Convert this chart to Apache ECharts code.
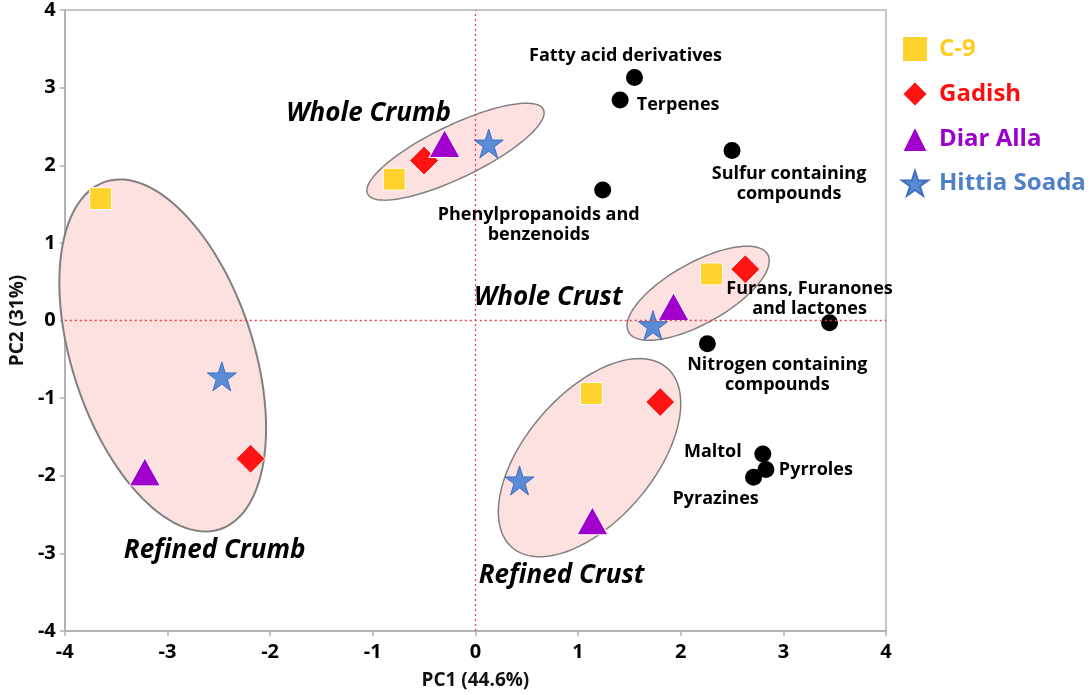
<!DOCTYPE html>
<html>
<head>
<meta charset="utf-8">
<script src="https://cdn.jsdelivr.net/npm/echarts@6/dist/echarts.min.js"></script>
<style>html,body{margin:0;padding:0;background:#fff;}#c{width:1092px;height:695px;}</style>
</head>
<body>
<div id="c"></div>
<script>
// ---- data ----
const seriesNames = ['C-9', 'Gadish', 'Diar Alla', 'Hittia Soada'];
// order of groups: Refined Crumb, Whole Crumb, Whole Crust, Refined Crust
const c9     = [[-3.65, 1.57], [-0.79, 1.82], [2.30, 0.60], [1.13, -0.94]];
const gadish = [[-2.19, -1.78], [-0.50, 2.06], [2.63, 0.66], [1.80, -1.05]];
const diar   = [[-3.22, -1.95], [-0.30, 2.28], [1.93, 0.18], [1.14, -2.58]];
const hittia = [[-2.47, -0.72], [0.13, 2.28], [1.73, -0.06], [0.43, -2.06]];

const compoundNames = ['Fatty acid derivatives', 'Terpenes', 'Sulfur containing\ncompounds',
  'Phenylpropanoids and\nbenzenoids', 'Furans, Furanones\nand lactones', 'Nitrogen containing\ncompounds',
  'Maltol', 'Pyrroles', 'Pyrazines'];
const compoundX = [1.55, 1.41, 2.50, 1.24, 3.45, 2.26, 2.80, 2.83, 2.71];
const compoundY = [3.13, 2.84, 2.19, 1.68, -0.03, -0.30, -1.72, -1.92, -2.02];

const groupNames = ['Refined Crumb', 'Whole Crumb', 'Whole Crust', 'Refined Crust'];
// ellipse: centre (x,y), half-axis A (dx,dy), half-axis B (dx,dy), in data units
const ellipseCenters = [[-3.046, -0.450], [-0.194, 2.175], [2.170, 0.351], [1.112, -1.767]];
const ellipseAxisA = [[0.557, -2.239], [0.856, 0.545], [0.677, 0.501], [0.751, 1.161]];
const ellipseAxisB = [[0.839, 0.361], [0.113, -0.305], [0.146, -0.341], [0.475, -0.531]];
const groupLabelPos = [[-2.54, -2.97], [-1.04, 2.67], [0.71, 0.29], [0.84, -3.28]];

const xTicks = { min: -4, max: 4, interval: 1 };
const yTicks = { min: -4, max: 4, interval: 1 };

// ---- styles (not data) ----
const FONT = '"Open Sans", Lato, sans-serif';
const labelOffsets = [[-9, -22], [58, 5], [57, 33], [-64, 35], [-20, -24], [70, 31], [-50, -2], [50, 0], [-38, 22]];
const STAR = 'path://M50,0 L61.2,34.5 L97.6,34.5 L68.2,55.9 L79.4,90.5 L50,69.1 L20.6,90.5 L31.8,55.9 L2.4,34.5 L38.8,34.5 Z';

const chart = echarts.init(document.getElementById('c'), null, { renderer: 'canvas' });

const ellipseData = groupNames.map((g, i) => [ellipseCenters[i][0], ellipseCenters[i][1],
  ellipseAxisA[i][0], ellipseAxisA[i][1], ellipseAxisB[i][0], ellipseAxisB[i][1]]);

const compoundData = compoundNames.map((n, i) => ({
  value: [compoundX[i], compoundY[i]],
  name: n,
  label: { offset: labelOffsets[i] }
}));

const axisCommon = {
  type: 'value',
  splitLine: { show: false },
  axisLine: { show: true, onZero: false, lineStyle: { color: '#b3b3b3', width: 2 } },
  axisTick: { show: true, length: 5, lineStyle: { color: '#b3b3b3', width: 1.5 } },
  axisLabel: { fontSize: 20, fontWeight: 'bold', color: '#000', fontFamily: FONT },
  nameLocation: 'middle',
  nameTextStyle: { fontSize: 19, fontWeight: 'bold', color: '#111', fontFamily: FONT }
};

const option = {
  animation: false,
  backgroundColor: '#fff',
  grid: { left: 62, right: 206, top: 5, bottom: 63, show: true, borderColor: '#b3b3b3', borderWidth: 1.5 },
  xAxis: Object.assign({}, axisCommon, {
    min: xTicks.min, max: xTicks.max, interval: xTicks.interval,
    name: 'PC1 (44.6%)', nameGap: 40,
    axisLabel: Object.assign({}, axisCommon.axisLabel, { margin: 11 })
  }),
  yAxis: Object.assign({}, axisCommon, {
    min: yTicks.min, max: yTicks.max, interval: yTicks.interval,
    name: 'PC2 (31%)', nameGap: 36,
    axisLabel: Object.assign({}, axisCommon.axisLabel, { margin: 9 })
  }),
  legend: {
    orient: 'vertical', left: 896, top: 30,
    itemWidth: 26, itemHeight: 26, itemGap: 17,
    textStyle: { fontSize: 24, fontWeight: 'bold', fontFamily: FONT, padding: [0, 0, 0, 6] },
    data: [
      { name: 'C-9', textStyle: { color: '#FFCC1F' } },
      { name: 'Gadish', textStyle: { color: '#FF0D0D' } },
      { name: 'Diar Alla', textStyle: { color: '#9B00CC' } },
      { name: 'Hittia Soada', textStyle: { color: '#4F81C9' } }
    ]
  },
  series: [
    {
      type: 'custom', name: 'ellipses', z: 1, silent: true,
      encode: { x: 0, y: 1 },
      data: ellipseData,
      renderItem: function (params, api) {
        const cx = api.value(0), cy = api.value(1), ax = api.value(2), ay = api.value(3), bx = api.value(4), by = api.value(5);
        const pts = [];
        const N = 120;
        for (let k = 0; k < N; k++) {
          const t = k / N * Math.PI * 2;
          pts.push(api.coord([cx + Math.cos(t) * ax + Math.sin(t) * bx, cy + Math.cos(t) * ay + Math.sin(t) * by]));
        }
        return { type: 'polygon', shape: { points: pts }, style: { fill: '#fde0e0', stroke: '#808080', lineWidth: params.dataIndex === 0 ? 2 : 1.5 } };
      }
    },
    {
      type: 'scatter', name: 'zero', z: 2, silent: true, data: [],
      markLine: {
        silent: true, symbol: 'none', label: { show: false },
        lineStyle: { color: '#e8414c', type: [2, 3], width: 1.3, opacity: 1 },
        data: [{ xAxis: 0 }, { yAxis: 0 }]
      }
    },
    {
      type: 'scatter', name: 'compounds', z: 3, symbol: 'circle', symbolSize: 17,
      itemStyle: { color: '#000', opacity: 1 },
      label: { show: true, position: 'inside', formatter: '{b}', color: '#000', fontSize: 18, fontWeight: 'bold',
        fontFamily: FONT, lineHeight: 20, align: 'center', verticalAlign: 'middle' },
      data: compoundData
    },
    {
      type: 'scatter', name: 'groups', z: 3, symbolSize: 0, silent: true,
      itemStyle: { opacity: 1 },
      label: { show: true, position: 'inside', formatter: '{b}', color: '#000', fontSize: 26, fontWeight: 'bold',
        fontStyle: 'italic', fontFamily: FONT },
      data: groupNames.map((g, i) => ({ name: g, value: groupLabelPos[i] }))
    },
    {
      type: 'scatter', name: 'C-9', z: 4, symbol: 'rect', symbolSize: 22, data: c9,
      itemStyle: { color: '#FFD22E', borderColor: '#fff', borderWidth: 1, opacity: 1 }
    },
    {
      type: 'scatter', name: 'Gadish', z: 4, symbol: 'diamond', symbolSize: 29, data: gadish,
      itemStyle: { color: '#FF1414', borderColor: '#fff', borderWidth: 1, opacity: 1 }
    },
    {
      type: 'scatter', name: 'Diar Alla', z: 4, symbol: 'triangle', symbolSize: [31, 28], data: diar,
      itemStyle: { color: '#A000CC', borderColor: '#fff', borderWidth: 1, opacity: 1 }
    },
    {
      type: 'scatter', name: 'Hittia Soada', z: 4, symbol: STAR, symbolSize: 29, data: hittia,
      itemStyle: { color: '#5A8BD6', borderColor: '#3f6fc0', borderWidth: 1, opacity: 1 }
    }
  ]
};
chart.setOption(option);
</script>
</body>
</html>
